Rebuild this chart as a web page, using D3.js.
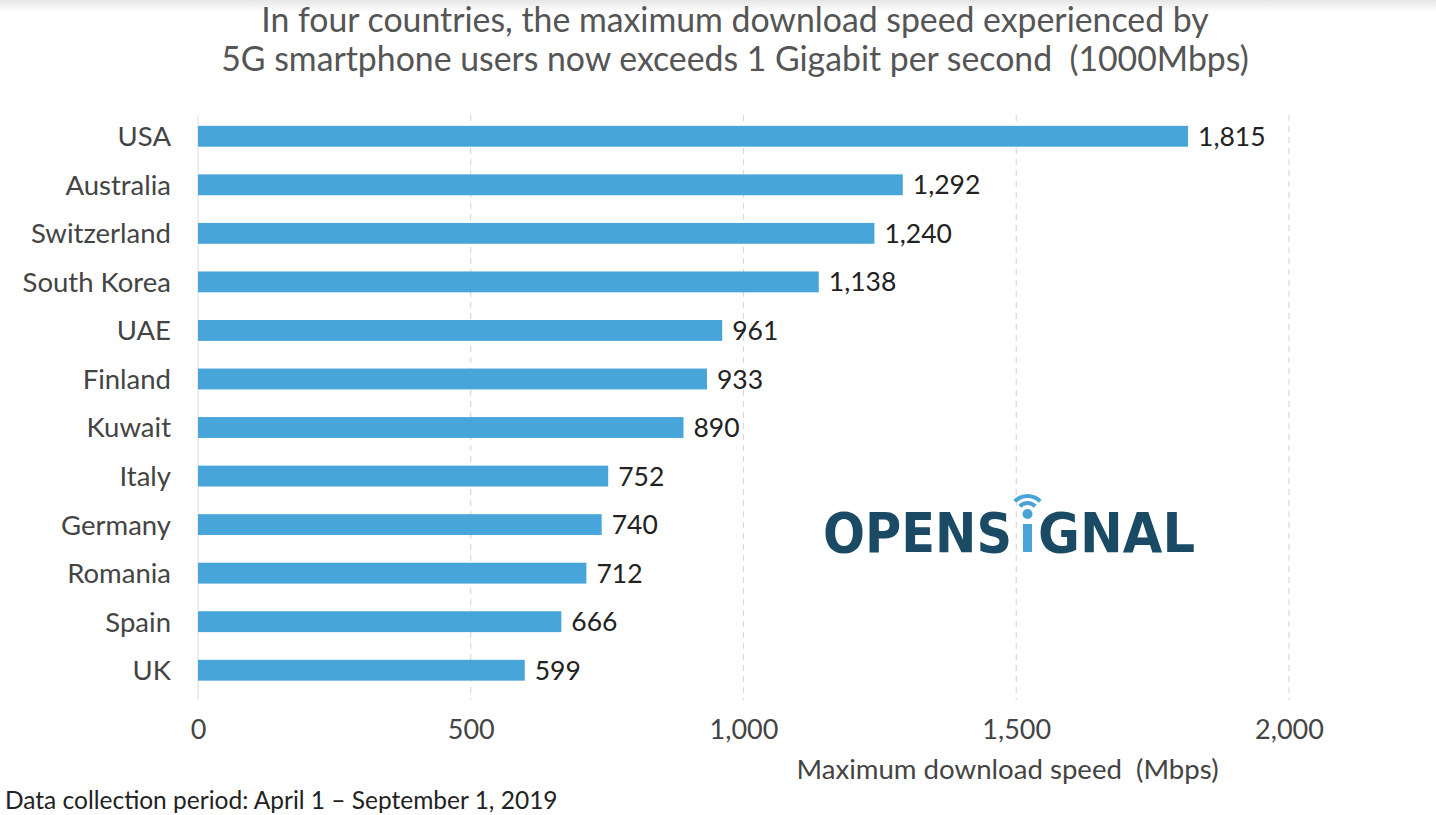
<!DOCTYPE html>
<html>
<head>
<meta charset="utf-8">
<script src="https://cdn.jsdelivr.net/npm/d3@7"></script>
<style>
  html, body { margin: 0; padding: 0; background: #fff; }
  svg { display: block; }
  text { white-space: pre; }
</style>
</head>
<body>
<svg id="chart" width="1436" height="815"></svg>
<script>
const countries = ["USA","Australia","Switzerland","South Korea","UAE","Finland","Kuwait","Italy","Germany","Romania","Spain","UK"];
const speeds = [1815,1292,1240,1138,961,933,890,752,740,712,666,599];
const tickValues = [0,500,1000,1500,2000];
const titleLines = ["In four countries, the maximum download speed experienced by",
                    "5G smartphone users now exceeds 1 Gigabit per second  (1000Mbps)"];
const axisTitle = "Maximum download speed  (Mbps)";
const footnote = "Data collection period: April 1 \u2013 September 1, 2019";

const data = countries.map((c, i) => ({country: c, value: speeds[i]}));
const svg = d3.select("#chart");
const font = "Lato, 'Open Sans', sans-serif";

// top shadow strip
const defs = svg.append("defs");
const grad = defs.append("linearGradient").attr("id","topg").attr("x1",0).attr("x2",0).attr("y1",0).attr("y2",1);
grad.append("stop").attr("offset","0%").attr("stop-color","#e6e6e6");
grad.append("stop").attr("offset","100%").attr("stop-color","#ffffff");
svg.append("rect").attr("x",0).attr("y",0).attr("width",1436).attr("height",12).attr("fill","url(#topg)");

const x = d3.scaleLinear().domain([0, 2000]).range([198, 1289]);
const y = d3.scaleBand().domain(countries).range([112, 694.5]).paddingInner(0.57).paddingOuter(0.285);

// grid
const grid = svg.append("g");
grid.selectAll("line").data(tickValues).join("line")
  .attr("x1", d => x(d)).attr("x2", d => x(d))
  .attr("y1", 115).attr("y2", 700)
  .attr("stroke", d => d === 0 ? "#e2e2e2" : "#d9d9d9")
  .attr("stroke-width", 1.2)
  .attr("stroke-dasharray", d => d === 0 ? null : "6,5");

// bars
svg.append("g").selectAll("rect").data(data).join("rect")
  .attr("x", x(0)).attr("y", d => y(d.country))
  .attr("width", d => x(d.value) - x(0))
  .attr("height", y.bandwidth())
  .attr("fill", "#48a5d9");

// value labels
svg.append("g").selectAll("text").data(data).join("text")
  .attr("x", d => x(d.value) + 10)
  .attr("y", d => y(d.country) + y.bandwidth() / 2)
  .attr("dy", "0.36em")
  .attr("font-family", font).attr("font-size", 26.5)
  .attr("fill", "#222")
  .text(d => d3.format(",")(d.value));

// category labels
svg.append("g").selectAll("text").data(data).join("text")
  .attr("x", 171)
  .attr("y", d => y(d.country) + y.bandwidth() / 2)
  .attr("dy", "0.36em")
  .attr("text-anchor", "end")
  .attr("font-family", font).attr("font-size", 27.5)
  .attr("fill", "#444")
  .text(d => d.country);

// x axis tick labels
const xAxis = d3.axisBottom(x).tickValues(tickValues).tickFormat(d3.format(",")).tickSize(0).tickPadding(0);
const ax = svg.append("g").attr("transform", "translate(0,720)").call(xAxis);
ax.select(".domain").remove();
ax.selectAll("text").attr("font-family", font).attr("font-size", 27).attr("fill", "#444").attr("dy", "0.71em");

// axis title
svg.append("text").attr("x", 1007.5).attr("y", 779).attr("text-anchor", "middle")
  .attr("font-family", font).attr("font-size", 27.6).attr("fill", "#444").text(axisTitle);

// footnote
svg.append("text").attr("x", 5).attr("y", 809)
  .attr("font-family", font).attr("font-size", 24.5).attr("fill", "#222").text(footnote);

// title
svg.append("g").selectAll("text").data(titleLines).join("text")
  .attr("x", 735).attr("y", (d, i) => 32 + i * 39)
  .attr("text-anchor", "middle")
  .attr("font-family", font).attr("font-size", 33.8)
  .attr("fill", "#555").text(d => d);

// logo
const logo = svg.append("g");
const navy = "#1b4a65", blue = "#4aa3d6";
logo.append("text").attr("x", 823).attr("y", 552)
  .attr("font-family", "'DejaVu Sans', sans-serif").attr("font-weight", "bold").attr("font-size", 56)
  .attr("textLength", 189).attr("lengthAdjust", "spacingAndGlyphs")
  .attr("fill", navy).text("OPENS");
logo.append("text").attr("x", 1038).attr("y", 552)
  .attr("font-family", "'DejaVu Sans', sans-serif").attr("font-weight", "bold").attr("font-size", 56)
  .attr("textLength", 157).attr("lengthAdjust", "spacingAndGlyphs")
  .attr("fill", navy).text("GNAL");
logo.append("rect").attr("x", 1023).attr("y", 524).attr("width", 9).attr("height", 28).attr("fill", blue);
logo.append("circle").attr("cx", 1027.5).attr("cy", 514).attr("r", 5).attr("fill", blue);
const arc = d3.arc();
[[9, 13], [16, 20]].forEach(([r0, r1]) => {
  logo.append("path")
    .attr("transform", "translate(1027.5,514)")
    .attr("d", arc({innerRadius: r0, outerRadius: r1, startAngle: -Math.PI / 4, endAngle: Math.PI / 4}))
    .attr("fill", blue);
});
</script>
</body>
</html>
